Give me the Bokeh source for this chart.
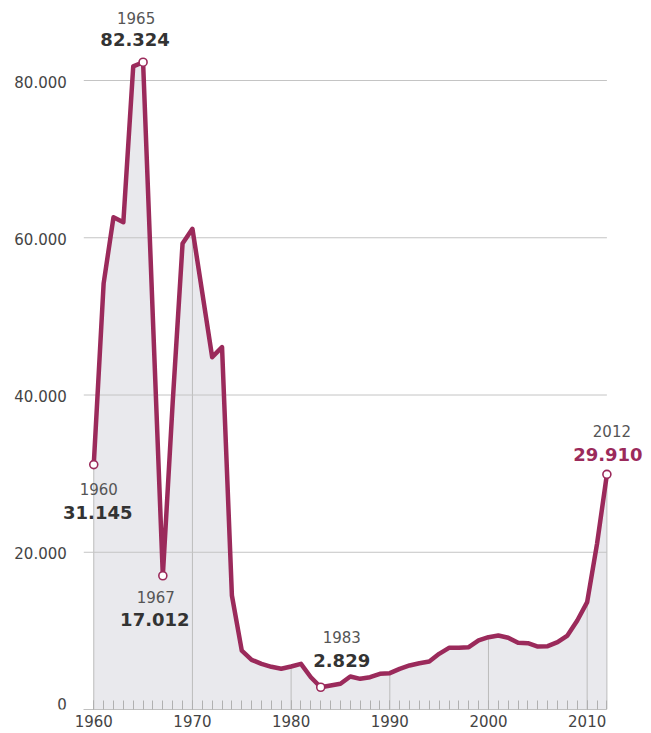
from bokeh.plotting import figure
from bokeh.models import Range1d, SingleIntervalTicker, ColumnDataSource
from bokeh.core.properties import value
from bokeh.embed import file_html
from bokeh.resources import INLINE

years = list(range(1960, 2013))
values = [31145, 54180, 62610, 61980, 81800, 82324, 49500, 17012, 39060, 59270,
          61140, 53000, 44810, 46080, 14500, 7500, 6320, 5810, 5430, 5180,
          5470, 5810, 4100, 2829, 3050, 3270, 4200, 3900, 4110, 4540,
          4620, 5170, 5600, 5890, 6100, 7080, 7840, 7840, 7920, 8780,
          9200, 9410, 9120, 8480, 8440, 8010, 8050, 8560, 9410, 11320,
          13650, 21070, 29910]

y_ticks = [0, 20000, 40000, 60000, 80000]
y_tick_labels = ["0", "20.000", "40.000", "60.000", "80.000"]

ann_years = [1960, 1965, 1967, 1983, 2012]
ann_values = ["31.145", "82.324", "17.012", "2.829", "29.910"]

LINE = "#9b2a5b"
FONT = "DejaVu Sans"
X0 = 1958.99  # left end of grid lines / axis line

p = figure(width=651, height=733, output_backend="svg", toolbar_location=None,
           x_range=Range1d(1950.55, 2016.52), y_range=Range1d(0, 90175),
           min_border_left=0, min_border_right=0, min_border_top=0, min_border_bottom=24)
p.outline_line_color = None
p.xgrid.visible = False
p.ygrid.visible = False
p.yaxis.visible = False
p.background_fill_color = "white"

# area
p.varea(x=years, y1=0, y2=values, fill_color="#e9e9ed")

# vertical grid lines inside area (decades + last year)
sel = [i for i, yr in enumerate(years) if yr % 10 == 0 or yr == years[-1]]
p.segment(x0=[years[i] for i in sel], y0=0, x1=[years[i] for i in sel],
          y1=[values[i] for i in sel], line_color="#bcbcbc", line_width=1)

# horizontal grid lines
p.segment(x0=X0, y0=y_ticks[1:], x1=years[-1], y1=y_ticks[1:],
          line_color="#c4c4c4", line_width=1)

# y tick labels
p.text(x=[X0] * len(y_ticks), y=y_ticks, text=y_tick_labels, x_offset=-17,
       y_offset=[-6, 1, 1, 1, 1],
       text_align="right", text_baseline="middle", text_font=value(FONT),
       text_font_size="15px", text_color="#444444")

# line
p.line(years, values, line_color=LINE, line_width=4.5, line_join="round")

# markers
idx = [years.index(y) for y in ann_years]
mx = [years[i] for i in idx]
my = [values[i] for i in idx]
p.scatter(mx, my, size=8, fill_color="white", line_color=LINE, line_width=1.6)

# annotation labels
yr_dx = [5, -7, -7, 21, 5]
yr_dy = [24, -44, 21, -50, -43]
val_dx = [4, -8, -8, 21, 1]
val_dy = [48, -23, 44, -27, -20]
val_col = ["#333333", "#333333", "#333333", "#333333", LINE]

src = ColumnDataSource(dict(x=mx, y=my, yr=[str(y) for y in ann_years], val=ann_values,
                            ydx=yr_dx, ydy=yr_dy, vdx=val_dx, vdy=val_dy, vc=val_col))
p.text(x="x", y="y", text="yr", source=src, x_offset="ydx", y_offset="ydy",
       text_align="center", text_baseline="middle", text_font=value(FONT),
       text_font_size="15px", text_color="#555555")
p.text(x="x", y="y", text="val", source=src, x_offset="vdx", y_offset="vdy",
       text_align="center", text_baseline="middle", text_font=value(FONT),
       text_font_size="18px", text_font_style="bold", text_color="vc")

# x axis
xa = p.xaxis[0]
xa.ticker = SingleIntervalTicker(interval=10, num_minor_ticks=10)
xa.bounds = (X0 + 0.02, years[-1])
xa.axis_line_color = "#c0c0c0"
xa.major_tick_in = 9
xa.major_tick_out = 0
xa.minor_tick_in = 9
xa.minor_tick_out = 0
xa.major_tick_line_color = "#b0b0b0"
xa.minor_tick_line_color = "#b0b0b0"
xa.major_label_standoff = 5
xa.major_label_text_font = FONT
xa.major_label_text_font_size = "15px"
xa.major_label_text_color = "#444444"

open("out.html", "w").write(file_html(p, INLINE))
